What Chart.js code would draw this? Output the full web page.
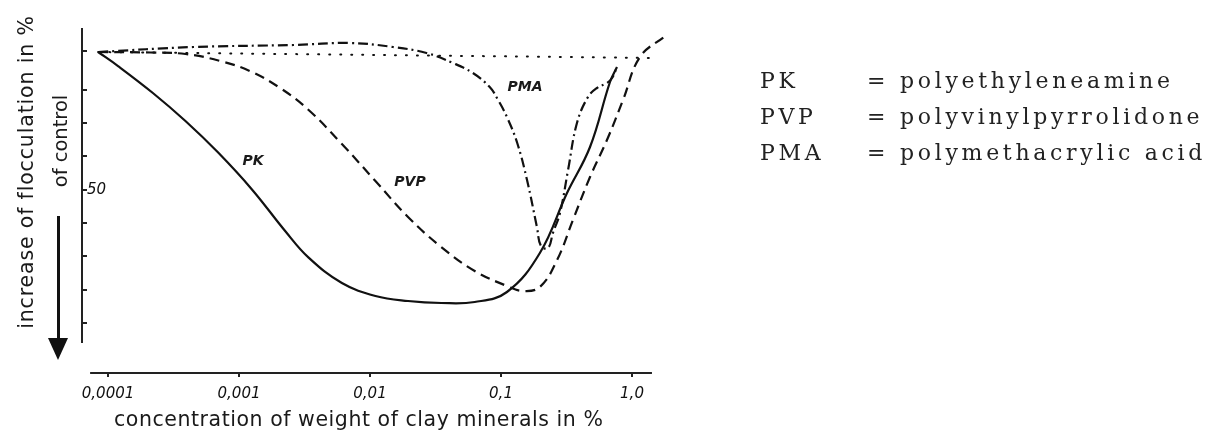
<!DOCTYPE html>
<html>
<head>
<meta charset="utf-8">
<script src="https://cdn.jsdelivr.net/npm/chart.js@4.4.0/dist/chart.umd.min.js"></script>
<style>
    body{margin:0;background:#fff;}
    #contenedor{position:relative;width:1218px;height:432px;overflow:hidden;}
    #grafica{position:absolute;left:0;top:0;}
    .titulo{position:absolute;font-family:"DejaVu Sans",sans-serif;font-size:20.5px;color:#1a1a1a;white-space:nowrap;}
    .vertical{transform:translate(-50%,-50%) rotate(-90deg);}
    #flecha{position:absolute;left:57px;top:216px;width:3px;height:126px;background:#111;}
    #punta{position:absolute;left:48px;top:338px;width:0;height:0;border-left:10px solid transparent;border-right:10px solid transparent;border-top:22px solid #111;}
    #leyenda{position:absolute;left:760px;top:63px;display:grid;grid-template-columns:107px 33px auto;font-family:"DejaVu Serif",serif;font-size:22px;line-height:36px;color:#222;letter-spacing:3.7px;}
</style>
</head>
<body>
<div id="contenedor">
    <canvas id="grafica" width="1218" height="432"></canvas>
    <div class="titulo vertical" style="left:26px;top:172px;letter-spacing:0.85px;">increase of flocculation in %</div>
    <div class="titulo vertical" style="left:60px;top:141px;font-size:19.5px;">of control</div>
    <div id="flecha"></div>
    <div id="punta"></div>
    <div class="titulo" style="left:114px;top:407px;letter-spacing:0.55px;">concentration of weight of clay minerals in %</div>
    <div id="leyenda"></div>
</div>
<script>
// concentracion (% peso) y aumento de floculacion
var conc_pk = [0.000084, 0.00012, 0.00022, 0.00039, 0.00069, 0.00126, 0.00225, 0.0034, 0.0061, 0.011, 0.0195, 0.035, 0.063, 0.111, 0.198, 0.319, 0.478, 0.679, 0.768];
var floc_pk = [8.7, 13.0, 21.0, 29.4, 38.8, 50.0, 62.4, 70.4, 78.0, 81.9, 83.4, 84.0, 83.7, 80.7, 69.0, 51.0, 37.2, 17.7, 13.2];

var conc_pvp = [0.000084, 0.00021, 0.00039, 0.00072, 0.00121, 0.00206, 0.0034, 0.0061, 0.011, 0.0195, 0.035, 0.063, 0.111, 0.147, 0.198, 0.268, 0.354, 0.478, 0.644, 0.854, 1.15, 1.79];
var floc_pvp = [8.7, 8.85, 9.3, 11.4, 14.4, 19.5, 26.1, 36.3, 47.4, 58.2, 67.2, 74.4, 78.9, 80.4, 79.2, 71.1, 59.1, 46.2, 35.1, 23.1, 10.2, 3.9];

var conc_pma = [0.000084, 0.00045, 0.0026, 0.007, 0.015, 0.027, 0.043, 0.061, 0.082, 0.095, 0.111, 0.133, 0.158, 0.188, 0.202, 0.229, 0.249, 0.282, 0.325, 0.38, 0.461, 0.54, 0.644, 0.704, 0.768];
var floc_pma = [8.7, 7.2, 6.6, 6.0, 7.2, 9.0, 12.0, 15.0, 19.2, 23.1, 28.2, 36.0, 47.1, 61.2, 66.9, 67.5, 63.0, 57.0, 44.1, 30.0, 22.2, 19.5, 18.0, 16.5, 13.2];

var conc_control = [0.000084, 1.58];
var floc_control = [8.7, 10.5];

var xTicks = [0.0001, 0.001, 0.01, 0.1, 1];
var xTickLabels = ['0,0001', '0,001', '0,01', '0,1', '1,0'];
var yTicks = [8.5, 20, 30, 40, 50, 60, 70, 80, 90];
var yTickLabels = ['', '', '', '', '50', '', '', '', ''];

var nombres = ['PK', 'PVP', 'PMA'];
var descripciones = ['polyethyleneamine', 'polyvinylpyrrolidone', 'polymethacrylic acid'];

// leyenda de texto a la derecha
var html = '';
for (var i = 0; i < nombres.length; i++) {
    html += '<span>' + nombres[i] + '</span><span>=</span><span>' + descripciones[i] + '</span>';
}
document.getElementById('leyenda').innerHTML = html;

function puntos(xs, ys) {
    return xs.map(function (x, i) { return {x: x, y: ys[i]}; });
}

var negro = '#111';
var fuenteTick = {family: 'DejaVu Sans', style: 'italic', size: 15};

// donde van los rotulos de cada curva (en unidades de los ejes)
var rotulos = [
    {texto: 'PK', x: 0.00128, y: 41.4},
    {texto: 'PVP', x: 0.0202, y: 47.7},
    {texto: 'PMA', x: 0.1525, y: 19.2}
];

var ejes = {
    id: 'ejes',
    beforeDatasetsDraw: function (chart) {
        var c = chart.ctx, xs = chart.scales.x, ys = chart.scales.y, a = chart.chartArea;
        c.save();
        c.strokeStyle = '#222';
        c.lineWidth = 2;
        c.beginPath();
        c.moveTo(a.left, a.top);
        c.lineTo(a.left, ys.getPixelForValue(96));
        c.moveTo(xs.getPixelForValue(0.000073), a.bottom);
        c.lineTo(xs.getPixelForValue(1.42), a.bottom);
        c.stroke();
        c.restore();
    },
    afterDatasetsDraw: function (chart) {
        var c = chart.ctx, xs = chart.scales.x, ys = chart.scales.y;
        c.save();
        c.fillStyle = '#1a1a1a';
        c.font = 'italic bold 14px "DejaVu Sans"';
        c.textAlign = 'center';
        c.textBaseline = 'middle';
        rotulos.forEach(function (r) {
            c.fillText(r.texto, xs.getPixelForValue(r.x), ys.getPixelForValue(r.y));
        });
        c.restore();
    }
};

var base = {borderColor: negro, borderWidth: 2.2, pointRadius: 0, fill: false, clip: false, tension: 0.4};

new Chart(document.getElementById('grafica').getContext('2d'), {
    type: 'line',
    data: {
        datasets: [
            Object.assign({}, base, {label: 'PK', data: puntos(conc_pk, floc_pk)}),
            Object.assign({}, base, {label: 'PVP', data: puntos(conc_pvp, floc_pvp), borderDash: [10, 6]}),
            Object.assign({}, base, {label: 'PMA', data: puntos(conc_pma, floc_pma), borderDash: [10, 4, 2, 4]}),
            Object.assign({}, base, {label: 'control', data: puntos(conc_control, floc_control), borderWidth: 2, borderDash: [1, 10], borderCapStyle: 'round'})
        ]
    },
    options: {
        responsive: false,
        animation: false,
        layout: {padding: {left: 0, top: 28, right: 548, bottom: 0}},
        plugins: {legend: {display: false}, tooltip: {enabled: false}},
        scales: {
            x: {
                type: 'logarithmic',
                min: 0.0000633,
                max: 1.95,
                border: {display: false},
                grid: {drawOnChartArea: false, drawTicks: true, tickLength: 4, lineWidth: 2, color: '#222'},
                afterBuildTicks: function (s) { s.ticks = xTicks.map(function (v) { return {value: v}; }); },
                afterFit: function (s) { s.height = 59; },
                ticks: {
                    autoSkip: false, maxRotation: 0, padding: 8, color: '#111', font: fuenteTick,
                    callback: function (v, i) { return xTickLabels[i]; }
                }
            },
            y: {
                type: 'linear',
                reverse: true,
                min: 1.5,
                max: 105,
                border: {display: false},
                grid: {drawOnChartArea: false, drawTicks: true, tickLength: -5, lineWidth: 2, color: '#222'},
                afterBuildTicks: function (s) { s.ticks = yTicks.map(function (v) { return {value: v}; }); },
                afterFit: function (s) { s.width = 82; },
                ticks: {
                    mirror: true, padding: 5, color: '#111', font: fuenteTick,
                    callback: function (v, i) { return yTickLabels[i]; }
                }
            }
        }
    },
    plugins: [ejes]
});
</script>
</body>
</html>
